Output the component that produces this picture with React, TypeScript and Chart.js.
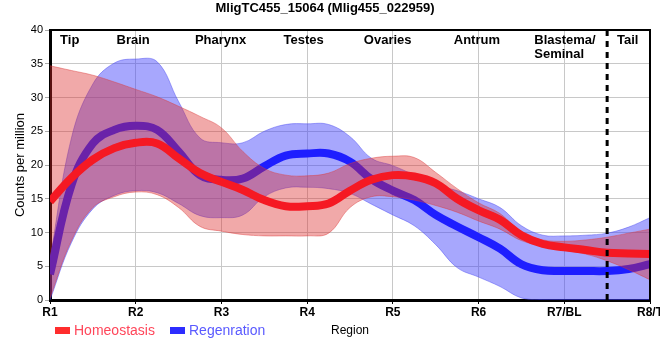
import React, { useEffect, useRef } from "react";
import { Chart, registerables } from "chart.js";

Chart.register(...registerables);

const FONT = '"Liberation Sans", Arial, sans-serif';

const chartTitle = "MligTC455_15064 (Mlig455_022959)";
const yAxisTitle = "Counts per million";
const xAxisTitle = "Region";
const xTickLabels = ["R1", "R2", "R3", "R4", "R5", "R6", "R7/BL", "R8/T"];
const regionNames = ["Tip", "Brain", "Pharynx", "Testes", "Ovaries", "Antrum", "Blastema/\nSeminal", "Tail"];
const regionPositions = [1.23, 1.97, 2.99, 3.96, 4.94, 5.98, 6.65, 7.74];
const tailBoundary = 7.5;
const seriesNames = ["Homeostasis", "Regenration"];

const xValues = [1, 1.25, 1.5, 1.75, 2, 2.25, 2.5, 2.75, 3, 3.25, 3.5, 3.75, 4, 4.25, 4.5, 4.75, 5, 5.25, 5.5, 5.75, 6, 6.25, 6.5, 6.75, 7, 7.25, 7.5, 7.75, 8];

const homeoMean = [14.6, 18.1, 20.8, 22.5, 23.3, 23.2, 21.0, 18.8, 17.5, 16.3, 14.8, 13.9, 13.9, 14.3, 16.2, 17.8, 18.5, 18.3, 17.3, 15.0, 13.3, 11.9, 9.6, 8.3, 7.8, 7.4, 7.0, 6.9, 6.8];
const homeoUpper = [34.7, 34.0, 33.3, 32.3, 31.2, 30.1, 28.7, 27.2, 25.5, 22.0, 19.5, 18.5, 18.4, 18.8, 20.2, 21.0, 21.3, 21.1, 18.9, 16.5, 14.4, 12.8, 10.0, 8.9, 8.7, 8.9, 9.3, 9.9, 10.5];
const homeoLower = [0.3, 8.8, 13.7, 15.3, 16.0, 15.6, 13.7, 10.9, 10.2, 9.7, 9.5, 9.5, 9.5, 9.9, 13.7, 15.3, 15.3, 14.8, 14.0, 13.0, 11.7, 10.5, 8.8, 8.0, 7.4, 6.8, 5.8, 4.5, 3.0];

const regenMean = [3.8, 17.0, 23.2, 25.2, 25.8, 25.2, 22.0, 18.5, 17.8, 18.0, 19.8, 21.4, 21.7, 21.7, 20.5, 17.9, 16.2, 14.8, 12.6, 10.9, 9.3, 7.6, 5.3, 4.4, 4.3, 4.3, 4.3, 4.6, 5.3];
const regenUpper = [6.0, 24.0, 32.0, 35.1, 35.7, 35.3, 29.4, 24.0, 23.3, 23.3, 25.0, 26.0, 26.1, 26.0, 24.2, 21.0, 19.9, 18.5, 17.0, 16.2, 15.0, 13.7, 11.0, 9.6, 9.5, 9.6, 9.9, 10.8, 12.2];
const regenLower = [0, 8.5, 13.5, 15.5, 16.2, 15.9, 14.3, 12.5, 12.2, 12.6, 15.3, 16.6, 16.7, 16.5, 15.8, 14.2, 12.6, 11.0, 8.2, 4.8, 3.4, 2.0, 0.3, 0, 0, 0, 0, 0, 0];

const pts = (arr: number[]) => xValues.map((x, i) => ({ x, y: arr[i] }));

const overlayPlugin = {
  id: "overlay",
  afterDatasetsDraw(chart: any) {
    const { ctx, chartArea } = chart;
    const { left, right, top, bottom } = chartArea;
    const xs = chart.scales.x;
    ctx.save();
    const bx = xs.getPixelForValue(tailBoundary);
    ctx.strokeStyle = "#000";
    ctx.lineWidth = 3;
    ctx.setLineDash([6, 5]);
    ctx.beginPath();
    ctx.moveTo(bx, top);
    ctx.lineTo(bx, bottom);
    ctx.stroke();
    ctx.setLineDash([]);
    ctx.lineWidth = 2;
    ctx.beginPath();
    ctx.moveTo(left, top);
    ctx.lineTo(right, top);
    ctx.lineTo(right, bottom);
    ctx.stroke();
    ctx.font = `bold 13px ${FONT}`;
    ctx.fillStyle = "#000";
    ctx.textBaseline = "alphabetic";
    regionNames.forEach((name, i) => {
      const lines = name.split("\n");
      const px = xs.getPixelForValue(regionPositions[i]);
      ctx.textAlign = lines.length > 1 ? "left" : "center";
      lines.forEach((ln, j) => ctx.fillText(ln, px, top + 14 + j * 14));
    });
    ctx.restore();
  },
  afterDraw(chart: any) {
    const { ctx, chartArea } = chart;
    const y = chartArea.bottom + 31;
    const boxColors = ["rgb(255,45,45)", "rgb(45,45,255)"];
    const textColors = ["rgb(255,70,90)", "rgb(90,90,255)"];
    const boxX = [55, 170];
    ctx.save();
    ctx.font = `14px ${FONT}`;
    ctx.textBaseline = "middle";
    ctx.textAlign = "left";
    seriesNames.forEach((name, i) => {
      ctx.fillStyle = boxColors[i];
      ctx.fillRect(boxX[i], y - 4, 15, 7);
      ctx.fillStyle = textColors[i];
      ctx.fillText(name, boxX[i] + 19, y);
    });
    ctx.restore();
  },
};

export default function App() {
  const ref = useRef<HTMLCanvasElement | null>(null);

  useEffect(() => {
    if (!ref.current) return;
    const common = { pointRadius: 0, tension: 0.4 };
    const chart = new Chart(ref.current, {
      type: "line",
      data: {
        datasets: [
          { ...common, label: seriesNames[0], data: pts(homeoMean), borderColor: "rgb(245,25,35)", borderWidth: 8, fill: false, order: 0 },
          { ...common, label: "hu", data: pts(homeoUpper), borderColor: "rgba(220,60,60,0.45)", borderWidth: 1, backgroundColor: "rgba(220,40,40,0.4)", fill: "+1", order: 1 },
          { ...common, label: "hl", data: pts(homeoLower), borderColor: "rgba(220,60,60,0.45)", borderWidth: 1, fill: false, order: 1 },
          { ...common, label: seriesNames[1], data: pts(regenMean), borderColor: "rgb(30,30,255)", borderWidth: 8, fill: false, order: 2 },
          { ...common, label: "ru", data: pts(regenUpper), borderColor: "rgba(70,70,240,0.45)", borderWidth: 1, backgroundColor: "rgba(60,60,250,0.45)", fill: "+1", order: 3 },
          { ...common, label: "rl", data: pts(regenLower), borderColor: "rgba(70,70,240,0.45)", borderWidth: 1, fill: false, order: 3 },
        ],
      },
      options: {
        responsive: false,
        animation: false,
        layout: { padding: { top: 0, right: 10, bottom: 0, left: 0 } },
        plugins: {
          legend: { display: false },
          tooltip: { enabled: false },
          title: {
            display: true,
            text: chartTitle,
            color: "#000",
            font: { family: FONT, size: 13, weight: "bold" },
            padding: { top: 1, bottom: 13.4 },
          },
        },
        scales: {
          x: {
            type: "linear",
            min: 1,
            max: 8,
            afterBuildTicks: (s: any) => {
              s.ticks = xTickLabels.map((_, i) => ({ value: i + 1 }));
            },
            afterFit: (s: any) => {
              s.height = 60;
              s.paddingLeft = 0;
              s.paddingRight = 0;
            },
            ticks: {
              autoSkip: false,
              maxRotation: 0,
              color: "#000",
              padding: 1,
              font: { family: FONT, size: 12, weight: "bold" },
              callback: (v: any) => xTickLabels[Math.round(Number(v)) - 1],
            },
            grid: { color: "rgb(200,200,200)", tickColor: "#000", tickLength: 4 },
            border: { color: "#000", width: 3 },
            title: {
              display: true,
              text: xAxisTitle,
              color: "#000",
              font: { family: FONT, size: 12 },
              padding: { top: 0, bottom: 22 },
            },
          },
          y: {
            min: 0,
            max: 40,
            afterFit: (s: any) => {
              s.width = 50;
            },
            ticks: { stepSize: 5, color: "#000", padding: 2, font: { family: FONT, size: 11 } },
            grid: { color: "rgb(200,200,200)", tickColor: "rgb(170,170,170)", tickLength: 5 },
            border: { color: "#000", width: 3 },
            title: {
              display: true,
              text: yAxisTitle,
              color: "#000",
              font: { family: FONT, size: 13 },
              padding: { top: 13, bottom: 0 },
            },
          },
        },
      },
      plugins: [overlayPlugin],
    } as any);
    return () => chart.destroy();
  }, []);

  return (
    <div style={{ position: "absolute", left: 0, top: 0, width: 660, height: 360 }}>
      <canvas ref={ref} width={660} height={360} style={{ display: "block" }} />
    </div>
  );
}
